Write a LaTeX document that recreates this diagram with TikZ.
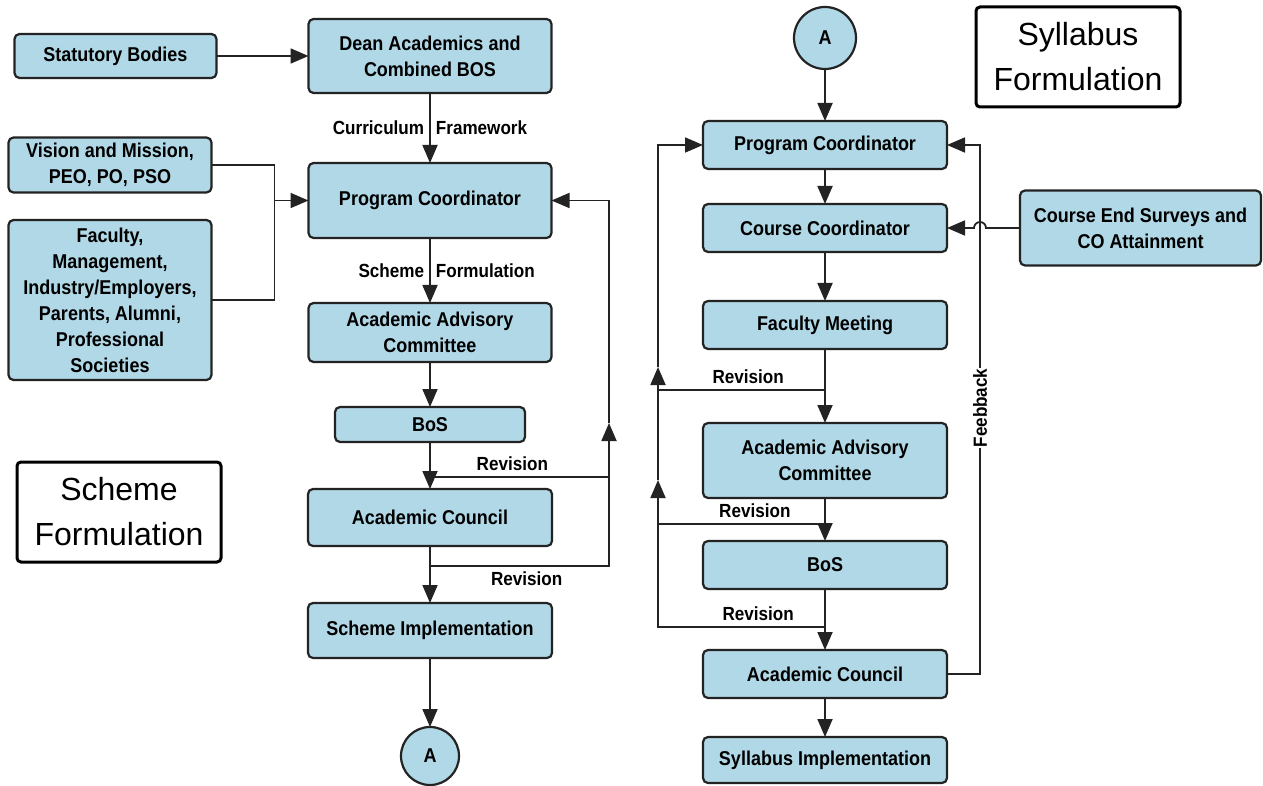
\documentclass[tikz,border=0pt]{standalone}
\usepackage{fontspec}
\usepackage{xcolor}
\usetikzlibrary{positioning,arrows.meta}
\newfontfamily\blkfont[FakeStretch=0.9]{Liberation Sans}
\newfontfamily\ttlfont{Liberation Sans}
\definecolor{blkfill}{RGB}{176,216,230}
\definecolor{blkline}{RGB}{35,35,35}
\tikzset{
  blk/.style={draw=blkline, fill=blkfill, line width=2.2pt, rounded corners=5pt, outer sep=0pt,
    align=center, inner sep=0pt, font=\blkfont\bfseries\fontsize{20}{26}\selectfont},
  conn/.style={circle, draw=blkline, fill=blkfill, line width=2.2pt, inner sep=0pt, outer sep=0pt,
    font=\blkfont\bfseries\fontsize{20}{24}\selectfont},
  ttl/.style={draw=black, line width=3pt, rounded corners=4pt, align=center,
    minimum width=204pt, minimum height=100pt, font=\ttlfont\fontsize{32}{45}\selectfont},
  lbl/.style={font=\blkfont\bfseries\fontsize{19}{24}\selectfont, inner sep=5pt},
  arr/.style={-{Triangle[length=18pt,width=15pt]}}
}
\begin{document}
\begin{tikzpicture}[auto, x=1pt, y=-1pt, line width=1.8pt, draw=blkline]
  \useasboundingbox (0,0) rectangle (1263,786);
  \node[blk, minimum width=243pt, minimum height=74pt] (dean) at (430,56) {Dean Academics and\\Combined BOS};
  \node[blk, minimum width=202pt, minimum height=44pt] (sb) [left = 92pt of dean] {Statutory Bodies};
  \node[blk, minimum width=243pt, minimum height=75pt] (pc) [below = 70pt of dean] {Program Coordinator};
  \node[blk, minimum width=243pt, minimum height=59pt] (aac) [below = 65pt of pc] {Academic Advisory\\Committee};
  \node[blk, minimum width=190pt, minimum height=35pt] (bos) [below = 45pt of aac] {BoS};
  \node[blk, minimum width=244pt, minimum height=57pt] (ac) [below = 47pt of bos] {Academic Council};
  \node[blk, minimum width=244pt, minimum height=55pt] (si) [below = 57pt of ac] {Scheme Implementation};
  \node[conn, minimum size=58pt] (ca) [below = 69pt of si] {A};
  \node[blk, minimum width=203pt, minimum height=55pt] (vis) at (110,165) {Vision and Mission,\\PEO, PO, PSO};
  \node[blk, minimum width=203pt, minimum height=160pt] (fac) at (110,300) {Faculty,\\Management,\\Industry/Employers,\\Parents, Alumni,\\Professional\\Societies};
  \node[ttl] (sch) at (119,512) {Scheme\\Formulation};

  \node[conn, minimum size=62pt] (cb) at (825,38) {A};
  \node[ttl] (syl) at (1078,57) {Syllabus\\Formulation};
  \node[blk, minimum width=244pt, minimum height=48pt] (pc2) [below = 52pt of cb] {Program Coordinator};
  \node[blk, minimum width=244pt, minimum height=48pt] (cc) [below = 35pt of pc2] {Course Coordinator};
  \node[blk, minimum width=241pt, minimum height=75pt] (ces) [right = 73pt of cc] {Course End Surveys and\\CO Attainment};
  \node[blk, minimum width=244pt, minimum height=48pt] (fm) [below = 49pt of cc] {Faculty Meeting};
  \node[blk, minimum width=244pt, minimum height=75pt] (aac2) [below = 74pt of fm] {Academic Advisory\\Committee};
  \node[blk, minimum width=244pt, minimum height=48pt] (bos2) [below = 43pt of aac2] {BoS};
  \node[blk, minimum width=244pt, minimum height=48pt] (ac2) [below = 61pt of bos2] {Academic Council};
  \node[blk, minimum width=244pt, minimum height=46pt] (syi) [below = 39pt of ac2] {Syllabus Implementation};

  \coordinate (j1) at ([xshift=-34pt]pc.west);
  \coordinate (r1) at (430,477);
  \coordinate (r2) at (430,566);
  \coordinate (lp) at (609,423);
  \coordinate (rv1) at (825,390);
  \coordinate (rv2) at (825,524);
  \coordinate (rv3) at (825,627);
  \coordinate (b1) at (658,480);
  \coordinate (b2) at (658,367);
  \coordinate (fb) at ([xshift=33pt]pc2.east);
  \coordinate (hp) at (fb |- cc.east);

  \draw[arr] (sb) -- (dean);
  \draw[arr] (dean) -- node[lbl, left]{Curriculum} node[lbl, right]{Framework} (pc);
  \draw (vis.east) -| (j1);
  \draw (fac.east) -| (j1);
  \draw[arr] (j1) -- (pc);
  \draw[arr] (pc) -- node[lbl, left]{Scheme} node[lbl, right]{Formulation} (aac);
  \draw[arr] (aac) -- (bos);
  \draw[arr] (bos) -- (ac);
  \draw[arr] (ac) -- (si);
  \draw[arr] (si) -- (ca);
  \draw (r2) -| node[lbl, below, pos=0.27]{Revision} (r1 -| lp);
  \draw[arr] (r1) -| node[lbl, above, pos=0.23]{Revision} (lp);
  \draw[arr] (lp) |- (pc.east);

  \draw[arr] (cb) -- (pc2);
  \draw[arr] (pc2) -- (cc);
  \draw[arr] (cc) -- (fm);
  \draw[arr] (fm) -- (aac2);
  \draw[arr] (aac2) -- (bos2);
  \draw[arr] (bos2) -- (ac2);
  \draw[arr] (ac2) -- (syi);
  \draw (rv3) -| node[lbl, above, pos=0.2]{Revision} (rv2 -| b1);
  \draw[arr] (rv2) -| node[lbl, above, pos=0.21]{Revision} (b1);
  \draw (b1) -- (rv1 -| b1);
  \draw[arr] (rv1) -| node[lbl, above, pos=0.23]{Revision} (b2);
  \draw[arr] (b2) |- (pc2.west);
  \draw[arr] (ac2.east) -| (fb) -- (pc2.east);
  \node[lbl, rotate=90, fill=white, inner sep=1pt] (fbl) at (980,408) {Feebback};
  \draw[arr] (ces.west) -- ([xshift=6pt]hp) arc[start angle=0, end angle=180, radius=6pt] -- (cc.east);
\end{tikzpicture}
\end{document}
